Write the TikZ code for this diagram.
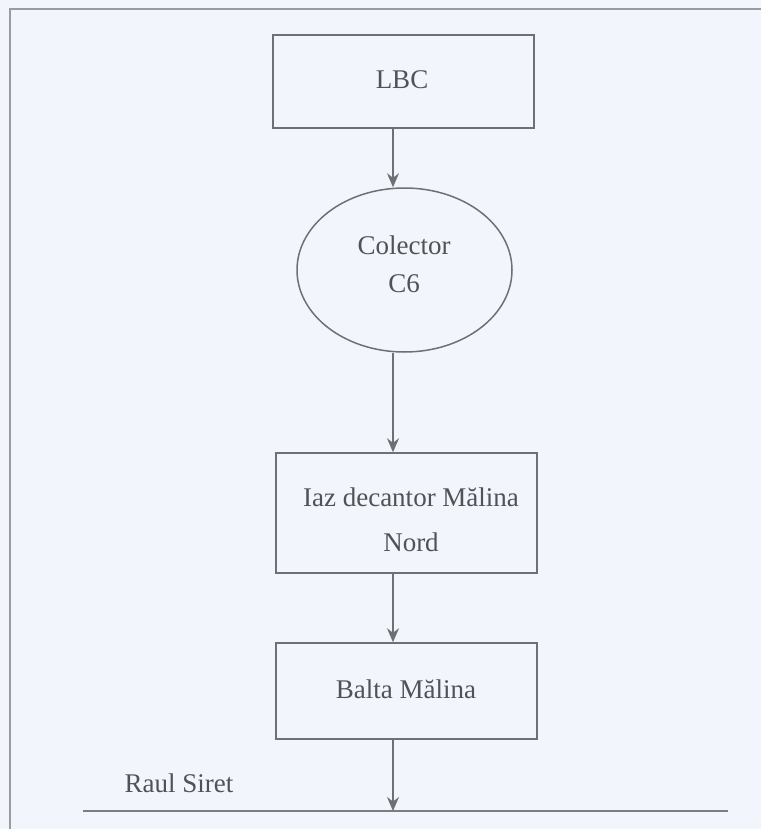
\documentclass[tikz,border=0pt]{standalone}
\usepackage{fontspec}
\setmainfont{Liberation Serif}
\usetikzlibrary{shapes.geometric,arrows.meta}
\definecolor{bg}{HTML}{F3F5FC}
\definecolor{ln}{HTML}{6E7074}
\definecolor{tx}{HTML}{505256}
\tikzset{
  box/.style={draw=ln, line width=1.5pt, rectangle, minimum width=261pt, inner sep=0pt},
  oval/.style={draw=ln, line width=1.5pt, ellipse, minimum width=215pt, minimum height=164pt, inner sep=0pt},
  txt/.style={text=tx, align=center, inner sep=0pt, font=\fontsize{27}{45}\selectfont},
  arr/.style={draw=ln, line width=1.4pt, -{Stealth[length=14pt,width=12pt]}},
  frame/.style={draw=ln!70, line width=1.6pt},
  river/.style={draw=ln!90, line width=1.6pt}
}
\begin{document}
\begin{tikzpicture}[x=1pt,y=-1pt]
\fill[bg] (0,0) rectangle (761,829);
\useasboundingbox (0,0) rectangle (761,829);
\draw[frame] (10,829) -- (10,9) -- (761,9);
\node[box, minimum height=93pt] (lbc) at (403.5,81.5) {};
\node[txt] (lbct) at (402,80) {LBC};
\node[oval] (col) at (404.5,270) {};
\node[txt, font=\fontsize{27}{38}\selectfont] (colt) at (404,264) {Colector\\C6};
\node[box, minimum height=120pt] (iaz) at (406.5,513) {};
\node[txt] (iazt) at (411,520) {Iaz decantor Mălina\\Nord};
\node[box, minimum height=96pt] (balta) at (406.5,691) {};
\node[txt] (baltat) at (406,689) {Balta Mălina};
\node[txt] (raul) at (179,783) {Raul Siret};
\coordinate (ax) at (393,0);
\coordinate (rl) at (83,811);
\coordinate (rr) at (728,811);
\draw[river] (rl) -- (rr);
\draw[arr] (lbc.south -| ax) -- (col.north -| ax);
\draw[arr] (col.south -| ax) -- (iaz.north -| ax);
\draw[arr] (iaz.south -| ax) -- (balta.north -| ax);
\draw[arr] (balta.south -| ax) -- (rl -| ax);
\end{tikzpicture}
\end{document}
